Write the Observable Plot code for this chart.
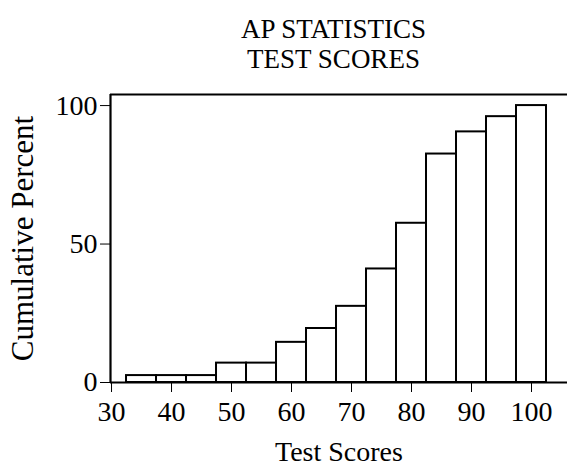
<!DOCTYPE html>
<html>
<head>
<meta charset="utf-8">
<script src="https://cdn.jsdelivr.net/npm/d3@7"></script>
<script src="https://cdn.jsdelivr.net/npm/@observablehq/plot@0.6"></script>
<style>
  body { margin: 0; background: #fff; }
  #title {
    box-sizing: border-box;
    width: 567px; height: 74px;
    padding: 14px 0 0 100px;
    font-family: "Liberation Serif", serif;
    font-size: 27px; line-height: 30px;
    text-align: center; color: #000;
  }
  #chart svg { display: block; overflow: visible; }
</style>
</head>
<body>
<div id="title">AP STATISTICS<br>TEST SCORES</div>
<div id="chart"></div>
<script>
// Data (bin centers, bin width 5)
const scoreBins = [35, 40, 45, 50, 55, 60, 65, 70, 75, 80, 85, 90, 95, 100];
const cumulativePercent = [2.5, 2.5, 2.5, 7, 7, 14.5, 19.5, 27.5, 41, 57.5, 82.5, 90.5, 96, 100];
const binWidth = 5;
const xTicks = [30, 40, 50, 60, 70, 80, 90, 100];
const yTicks = [0, 50, 100];
const xDomain = [29.83, 106];
const yDomain = [0, 104];

const data = scoreBins.map((s, i) => ({score: s, pct: cumulativePercent[i]}));

const plot = Plot.plot({
  width: 567,
  height: 397,
  marginTop: 20,
  marginBottom: 89,
  marginLeft: 110,
  marginRight: 0,
  style: {fontFamily: "Liberation Serif, serif", fontSize: "28px", color: "#000", background: "#fff", overflow: "visible"},
  x: {domain: xDomain},
  y: {domain: yDomain},
  marks: [
    Plot.rectY(data, {
      x1: d => d.score - binWidth / 2,
      x2: d => d.score + binWidth / 2,
      y1: 0,
      y2: "pct",
      fill: "#fff",
      stroke: "#000",
      strokeWidth: 2
    }),
    Plot.ruleX([xDomain[0]], {stroke: "#000", strokeWidth: 2.2}),
    Plot.ruleY([yDomain[1]], {stroke: "#000", strokeWidth: 2}),
    Plot.ruleY([0], {stroke: "#000", strokeWidth: 2.2}),
    Plot.axisX({
      ticks: xTicks, tickSize: 10, tickPadding: 9, fontSize: 28,
      tickFormat: d => String(d),
      label: "Test Scores", labelAnchor: "center", labelArrow: "none", labelOffset: 78
    }),
    Plot.axisY({
      ticks: yTicks, tickSize: 10, tickPadding: 3, fontSize: 28,
      tickFormat: d => String(d),
      label: "Cumulative Percent", labelAnchor: "center", labelArrow: "none", labelOffset: 100
    })
  ]
});
document.getElementById("chart").appendChild(plot);
d3.select(plot).selectAll('g[aria-label="y-axis label"]').attr("font-size", 31);
</script>
</body>
</html>
